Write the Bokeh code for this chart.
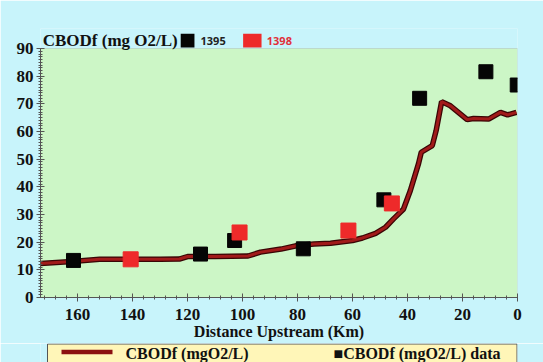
from bokeh.plotting import figure
from bokeh.layouts import column
from bokeh.models import Range1d, Label, BoxAnnotation, FixedTicker
from bokeh.core.properties import value
from bokeh.embed import file_html
from bokeh.resources import INLINE

# ---- data ----
line_km = [173.5, 162, 152, 140, 130, 123, 120, 110, 98, 93.5, 86, 80, 74, 68, 60, 56.4,
           51.6, 48, 45, 41.5, 39, 36, 35, 31, 29.6, 27.6, 24.4, 18.3, 16, 10.5, 6.2, 3.6, 0.4]
line_val = [12.3, 13.0, 13.8, 13.8, 13.8, 13.9, 14.8, 14.8, 15.0, 16.4, 17.5, 18.8, 19.3, 19.6,
            20.6, 21.5, 23.2, 25.4, 28.5, 31.9, 38.6, 48.4, 52.5, 54.9, 60.3, 70.8, 69.3, 64.3,
            64.7, 64.5, 66.9, 66.0, 66.9]
data1395_km = [161.5, 115.3, 102.9, 77.9, 48.6, 35.6, 11.5, 0.1]
data1395_val = [13.4, 15.7, 20.6, 17.6, 35.3, 72.0, 81.6, 76.8]
data1398_km = [140.7, 101.1, 61.5, 45.7]
data1398_val = [13.8, 23.5, 24.2, 34.0]
x_ticks = [0, 20, 40, 60, 80, 100, 120, 140, 160]
y_ticks = [0, 10, 20, 30, 40, 50, 60, 70, 80, 90]
legend_labels = ["CBODf (mgO2/L)", "\u25a0CBODf (mgO2/L) data"]
y_max = 90
x_max = 173.5

OUTER = "#c8f4fb"
PLOT_BG = "#ccf6c6"
LEGEND_BG = "#fff6b8"
LINE_DARK = "#3a0505"
LINE_RED = "#a11a1a"
SERIF = "Liberation Serif"
BORDER_L, BORDER_R = 40, 26

# frame extends a little above y=90 so the chart heading can sit there unclipped
p = figure(width=543, height=343, output_backend="svg", toolbar_location=None,
           x_range=Range1d(x_max, 0), y_range=Range1d(0, 97.23),
           min_border_left=BORDER_L, min_border_right=BORDER_R, min_border_top=28,
           min_border_bottom=46)
p.background_fill_color = OUTER
p.border_fill_color = OUTER
p.outline_line_color = None
p.grid.visible = False

# green plotting area 0..90
p.add_layout(BoxAnnotation(top=y_max, bottom=0, fill_color=PLOT_BG, fill_alpha=1,
                           line_color="#9a9a9a", line_width=1, level="underlay"))

for ax in (p.xaxis[0], p.yaxis[0]):
    ax.major_label_text_font = SERIF
    ax.major_label_text_font_style = "bold"
    ax.major_label_text_font_size = "17px"
    ax.major_label_text_color = "#111111"
    ax.axis_line_color = "#555555"
    ax.major_tick_line_color = "#555555"
    ax.minor_tick_line_color = "#555555"
    ax.major_tick_in = 4
    ax.major_tick_out = 4
    ax.minor_tick_in = 2
    ax.minor_tick_out = 2

p.xaxis[0].ticker = FixedTicker(ticks=x_ticks, minor_ticks=list(range(0, 174, 4)))
p.yaxis[0].ticker = FixedTicker(ticks=y_ticks, minor_ticks=list(range(0, 91, 1)))
p.yaxis[0].bounds = (0, y_max)
p.xaxis[0].major_label_standoff = 7
p.yaxis[0].major_label_standoff = 3
p.xaxis[0].axis_label = "Distance Upstream (Km)"
p.xaxis[0].axis_label_text_font = SERIF
p.xaxis[0].axis_label_text_font_style = "bold"
p.xaxis[0].axis_label_text_font_size = "16px"
p.xaxis[0].axis_label_text_color = "#111111"
p.xaxis[0].axis_label_standoff = 0

# model line
p.line(line_km, line_val, line_color=LINE_DARK, line_width=5.5)
p.line(line_km, line_val, line_color=LINE_RED, line_width=3)

# observed data
p.scatter(data1395_km, data1395_val, marker="square", size=14, fill_color="#050505", line_color="#050505")
p.scatter(data1398_km, data1398_val, marker="square", size=15, fill_color="#ee2a2a", line_color="#ee2a2a")

# heading with inline key
p.add_layout(Label(x=172.7, y=92.9, text="CBODf (mg O2/L)", text_font=SERIF, text_font_style="bold",
                   text_font_size="17px", text_baseline="middle", text_color="#111111"))
p.add_layout(BoxAnnotation(left=122.5, right=117.5, bottom=90.4, top=95.3,
                           fill_color="#050505", fill_alpha=1, line_color=None))
p.add_layout(Label(x=115.3, y=92.7, text="1395", text_font="Open Sans", text_font_style="bold",
                   text_font_size="11px", text_baseline="middle", text_color="#222222"))
p.add_layout(BoxAnnotation(left=99.8, right=93.1, bottom=90.4, top=95.3,
                           fill_color="#ee2a2a", fill_alpha=1, line_color=None))
p.add_layout(Label(x=91.2, y=92.7, text="1398", text_font="Open Sans", text_font_style="bold",
                   text_font_size="11px", text_baseline="middle", text_color="#e0303a"))

# ---- bottom legend strip (page-pixel coordinates; same side borders as the main plot) ----
f = figure(width=543, height=19, output_backend="svg", toolbar_location=None,
           x_range=Range1d(BORDER_L, 543 - BORDER_R), y_range=Range1d(362, 343),
           x_axis_location=None, y_axis_location=None,
           min_border_left=BORDER_L, min_border_right=BORDER_R, min_border_top=0,
           min_border_bottom=0)
f.background_fill_color = OUTER
f.border_fill_color = OUTER
f.outline_line_color = None
f.grid.visible = False
f.quad(left=[47], right=[516.5], top=[343.5], bottom=[380], fill_color=LEGEND_BG,
       line_color="#555555", line_width=1)
f.segment(x0=[61], y0=[351.5], x1=[112], y1=[351.5], line_color="#8b1010", line_width=4.5)
f.text(x=[125, 333], y=[353, 353], text=legend_labels, text_font=value(SERIF),
       text_font_style="bold", text_font_size="16px", text_baseline="middle",
       text_color="#111111")

layout = column(p, f, spacing=0)
open("out.html", "w").write(file_html(layout, INLINE))
